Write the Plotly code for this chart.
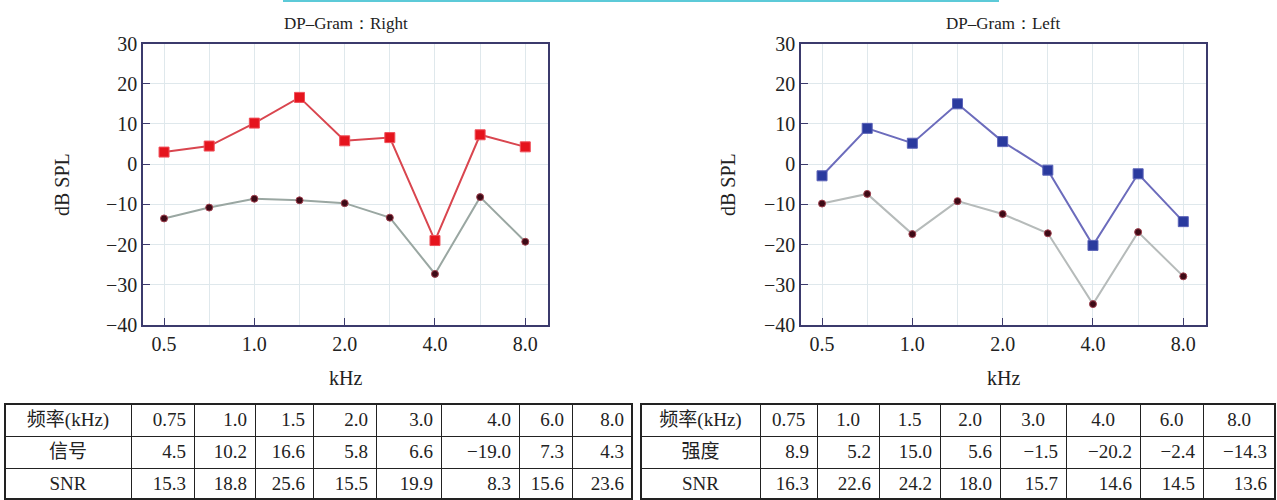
import plotly.graph_objects as go

# ---------------- data ----------------
freq_labels = ["0.5", "0.75", "1.0", "1.5", "2.0", "3.0", "4.0", "6.0", "8.0"]
tick_labels = ["0.5", "1.0", "2.0", "4.0", "8.0"]

right_signal = [3.0, 4.5, 10.2, 16.6, 5.8, 6.6, -19.0, 7.3, 4.3]
right_noise = [-13.5, -10.8, -8.6, -9.0, -9.7, -13.3, -27.3, -8.2, -19.3]
right_snr = [15.3, 18.8, 25.6, 15.5, 19.9, 8.3, 15.6, 23.6]

left_signal = [-2.9, 8.9, 5.2, 15.0, 5.6, -1.5, -20.2, -2.4, -14.3]
left_noise = [-9.8, -7.4, -17.4, -9.2, -12.4, -17.2, -34.8, -16.9, -27.9]
left_snr = [16.3, 22.6, 24.2, 18.0, 15.7, 14.6, 14.5, 13.6]

table_freqs = freq_labels[1:]

# ---------------- layout helpers ----------------
W, H = 1277, 500
SERIF = "Liberation Serif, Times New Roman, serif"
CJK = "Liberation Serif, Noto Sans CJK SC, serif"

xpos = list(range(len(freq_labels)))
tickvals = [freq_labels.index(t) for t in tick_labels]


def fmt(v):
    return f"{v:.1f}".replace("-", "\u2212")


fig = go.Figure()

# Right ear plot (left panel)
fig.add_trace(go.Scatter(
    x=xpos, y=right_noise, mode="lines+markers", xaxis="x", yaxis="y",
    line=dict(color="#9aa7a2", width=2),
    marker=dict(symbol="circle", size=7, color="#3d0a16", line=dict(color="#a0404e", width=1)),
    showlegend=False))
fig.add_trace(go.Scatter(
    x=xpos, y=right_signal, mode="lines+markers", xaxis="x", yaxis="y",
    line=dict(color="#d9464f", width=2),
    marker=dict(symbol="square", size=10, color="#e5141d", line=dict(color="#f0505a", width=1)),
    showlegend=False))

# Left ear plot (right panel)
fig.add_trace(go.Scatter(
    x=xpos, y=left_noise, mode="lines+markers", xaxis="x2", yaxis="y2",
    line=dict(color="#b6bbba", width=2),
    marker=dict(symbol="circle", size=7, color="#3d0a16", line=dict(color="#a0404e", width=1)),
    showlegend=False))
fig.add_trace(go.Scatter(
    x=xpos, y=left_signal, mode="lines+markers", xaxis="x2", yaxis="y2",
    line=dict(color="#6c6cbc", width=2),
    marker=dict(symbol="square", size=10, color="#2a3a9e", line=dict(color="#5a62b8", width=1)),
    showlegend=False))

# Tables
col_w_left = [126, 63, 61, 58, 63, 65, 78, 53, 60]
col_w_right = [119, 57, 62, 61, 60, 66, 74, 63, 72]
TFONT = dict(family=CJK, size=19, color="#222")

fig.add_trace(go.Table(
    domain=dict(x=[5 / W, 632 / W], y=[0, 1 - 404 / H]),
    columnwidth=col_w_left,
    header=dict(values=["频率(kHz)"] + table_freqs,
                align=["center"] + ["right"] * len(table_freqs),
                height=32, fill_color="white",
                line=dict(color="#222", width=1), font=TFONT),
    cells=dict(values=[["信号", "SNR"]] + [[fmt(s), fmt(n)] for s, n in zip(right_signal[1:], right_snr)],
               align=["center"] + ["right"] * len(table_freqs),
               height=32, fill_color="white",
               line=dict(color="#222", width=1), font=TFONT)))

fig.add_trace(go.Table(
    domain=dict(x=[641 / W, 1275 / W], y=[0, 1 - 404 / H]),
    columnwidth=col_w_right,
    header=dict(values=["频率(kHz)"] + table_freqs,
                align=["center"] * (len(table_freqs) + 1),
                height=32, fill_color="white",
                line=dict(color="#222", width=1), font=TFONT),
    cells=dict(values=[["强度", "SNR"]] + [[fmt(s), fmt(n)] for s, n in zip(left_signal[1:], left_snr)],
               align=["center"] + ["right"] * len(table_freqs),
               height=32, fill_color="white",
               line=dict(color="#222", width=1), font=TFONT)))

axis_line = "#3b3a6c"
grid_c = "#dfe8ec"
TICKFONT = dict(family=SERIF, size=20, color="#222")


def xaxis(domain, anchor):
    return dict(domain=domain, anchor=anchor, range=[-0.466, 8.503],
                tickmode="array", tickvals=tickvals, ticktext=tick_labels,
                ticks="inside", ticklen=7, tickcolor=axis_line, tickwidth=1,
                showgrid=True, gridcolor=grid_c, gridwidth=1,
                minor=dict(dtick=1, tick0=0, showgrid=True, gridcolor=grid_c, ticklen=0),
                showline=True, linecolor=axis_line, linewidth=1.5, mirror=True,
                zeroline=False, fixedrange=True, automargin=False, tickfont=TICKFONT)


def yaxis(domain, anchor):
    return dict(domain=domain, anchor=anchor, range=[-40, 30], dtick=10,
                ticks="inside", ticklen=7, tickcolor=axis_line, tickwidth=1,
                showgrid=True, gridcolor=grid_c, gridwidth=1,
                showline=True, linecolor=axis_line, linewidth=1.5, mirror=True,
                zeroline=False, fixedrange=True, automargin=False,
                tickformat="d", tickfont=TICKFONT)


ydom = [1 - 325 / H, 1 - 43.5 / H]

annotations = []
for cx, title in [((143 + 548) / 2, "DP\u2013Gram\uff1aRight"), ((801 + 1206) / 2, "DP\u2013Gram\uff1aLeft")]:
    annotations.append(dict(x=cx / W, y=1 - 23 / H, xref="paper", yref="paper", text=title,
                            showarrow=False, xanchor="center", yanchor="middle",
                            font=dict(family=SERIF, size=17, color="#222")))
    annotations.append(dict(x=cx / W, y=1 - 378 / H, xref="paper", yref="paper", text="kHz",
                            showarrow=False, xanchor="center", yanchor="middle",
                            font=dict(family=SERIF, size=20, color="#222")))
for lx in [62, 728]:
    annotations.append(dict(x=lx / W, y=1 - 185 / H, xref="paper", yref="paper", text="dB SPL",
                            showarrow=False, xanchor="center", yanchor="middle", textangle=-90,
                            font=dict(family=SERIF, size=20, color="#222")))

shapes = [
    dict(type="line", xref="paper", yref="paper", x0=283 / W, x1=999 / W, y0=1 - 1 / H, y1=1 - 1 / H,
         line=dict(color="#5ccad8", width=2)),
    dict(type="rect", xref="paper", yref="paper", x0=5 / W, x1=632 / W, y0=1 / H, y1=1 - 404 / H,
         line=dict(color="#222", width=2)),
    dict(type="rect", xref="paper", yref="paper", x0=641 / W, x1=1275 / W, y0=1 / H, y1=1 - 404 / H,
         line=dict(color="#222", width=2)),
]

fig.update_layout(
    width=W, height=H,
    margin=dict(l=0, r=0, t=0, b=0, pad=0, autoexpand=False),
    paper_bgcolor="white", plot_bgcolor="white",
    showlegend=False,
    xaxis=xaxis([143 / W, 548 / W], "y"),
    yaxis=yaxis(ydom, "x"),
    xaxis2=xaxis([801 / W, 1206 / W], "y2"),
    yaxis2=yaxis(ydom, "x2"),
    annotations=annotations,
    shapes=shapes,
)

post = ("document.body.style.margin='0';document.body.style.overflow='hidden';"
        "var d=document.getElementById('{plot_id}');"
        "d.style.position='absolute';d.style.left='0px';d.style.top='0px';")
fig.write_html("out.html", config={"displayModeBar": False}, post_script=post)
